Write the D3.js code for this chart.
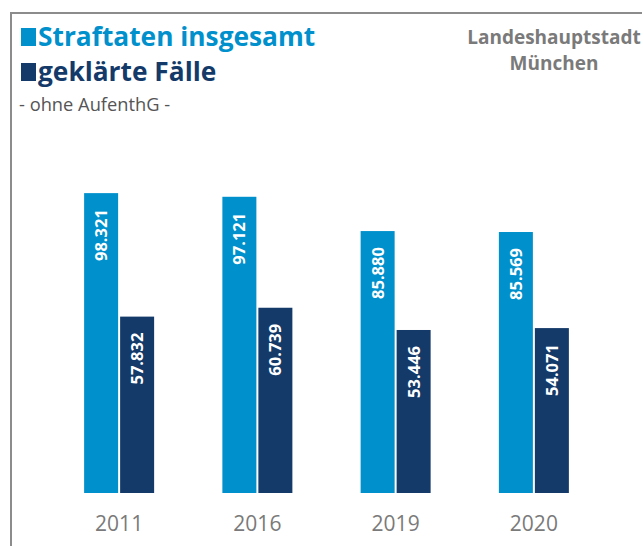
<!DOCTYPE html>
<html>
<head>
<meta charset="utf-8">
<script src="https://cdn.jsdelivr.net/npm/d3@7"></script>
<style>
  body { margin: 0; background: #fff; }
  text { font-family: "Source Sans Pro", "Open Sans", "Noto Sans", sans-serif; }
</style>
</head>
<body>
<svg width="642" height="546"></svg>
<script>
const years = ["2011", "2016", "2019", "2020"];
const straftaten = [98321, 97121, 85880, 85569];
const geklaert = [57832, 60739, 53446, 54071];
const seriesNames = ["Straftaten insgesamt", "geklärte Fälle"];
const colors = ["#0090cc", "#143a6a"];

const svg = d3.select("svg");
const fmt = d3.formatLocale({ decimal: ",", thousands: ".", grouping: [3], currency: ["", "€"] }).format(",d");

// frame
svg.append("path")
    .attr("d", "M11,546 V13 H642")
    .attr("fill", "none")
    .attr("stroke", "#8c8c8c")
    .attr("stroke-width", 2);

const x = d3.scaleBand().domain(years).range([50, 603]).padding(0);
const y = d3.scaleLinear().domain([0, 100000]).range([493, 188]);
const barW = 34, gap = 2;

const groups = years.map((yr, i) => ({ year: yr, vals: [straftaten[i], geklaert[i]] }));

const g = svg.append("g");
groups.forEach(d => {
    const cx = x(d.year) + x.bandwidth() / 2;
    d.vals.forEach((v, j) => {
        const bx = j === 0 ? cx - gap / 2 - barW : cx + gap / 2;
        g.append("rect")
            .attr("x", bx)
            .attr("y", y(v))
            .attr("width", barW)
            .attr("height", y(0) - y(v))
            .attr("fill", colors[j]);
        const tx = bx + barW / 2 + 6;
        const ty = y(v) + 16;
        g.append("text")
            .attr("transform", `translate(${tx},${ty}) rotate(-90)`)
            .attr("text-anchor", "end")
            .attr("fill", "#fff")
            .attr("font-weight", "bold")
            .attr("font-size", 16.5)
            .text(fmt(v));
    });
});

// x axis labels
const xAxis = svg.append("g")
    .attr("transform", "translate(0,506)")
    .call(d3.axisBottom(x).tickSize(0).tickPadding(10));
xAxis.select(".domain").remove();
xAxis.selectAll("text")
    .attr("font-size", 21)
    .attr("fill", "#7a7a7a")
    .attr("font-family", "\"Source Sans Pro\", \"Open Sans\", sans-serif");

// legend / title
seriesNames.forEach((s, i) => {
    const ly = 46 + i * 35;
    svg.append("rect")
        .attr("x", 21).attr("y", ly - 18)
        .attr("width", 15).attr("height", 18)
        .attr("fill", colors[i]);
    svg.append("text")
        .attr("x", 38).attr("y", ly)
        .attr("fill", colors[i])
        .attr("font-weight", "bold")
        .attr("font-size", 26.3)
        .text(s);
});

svg.append("text")
    .attr("x", 19).attr("y", 111)
    .attr("fill", "#555")
    .attr("font-size", 18.3)
    .text("- ohne AufenthG -");

svg.append("text")
    .attr("y", 44)
    .attr("text-anchor", "middle")
    .attr("fill", "#7a7a7a")
    .attr("font-weight", "bold")
    .attr("font-size", 19)
    .selectAll("tspan")
    .data(["Landeshauptstadt", "München"])
    .join("tspan")
    .attr("x", 554)
    .attr("dy", (d, i) => i === 0 ? 0 : 26)
    .text(d => d);
</script>
</body>
</html>
